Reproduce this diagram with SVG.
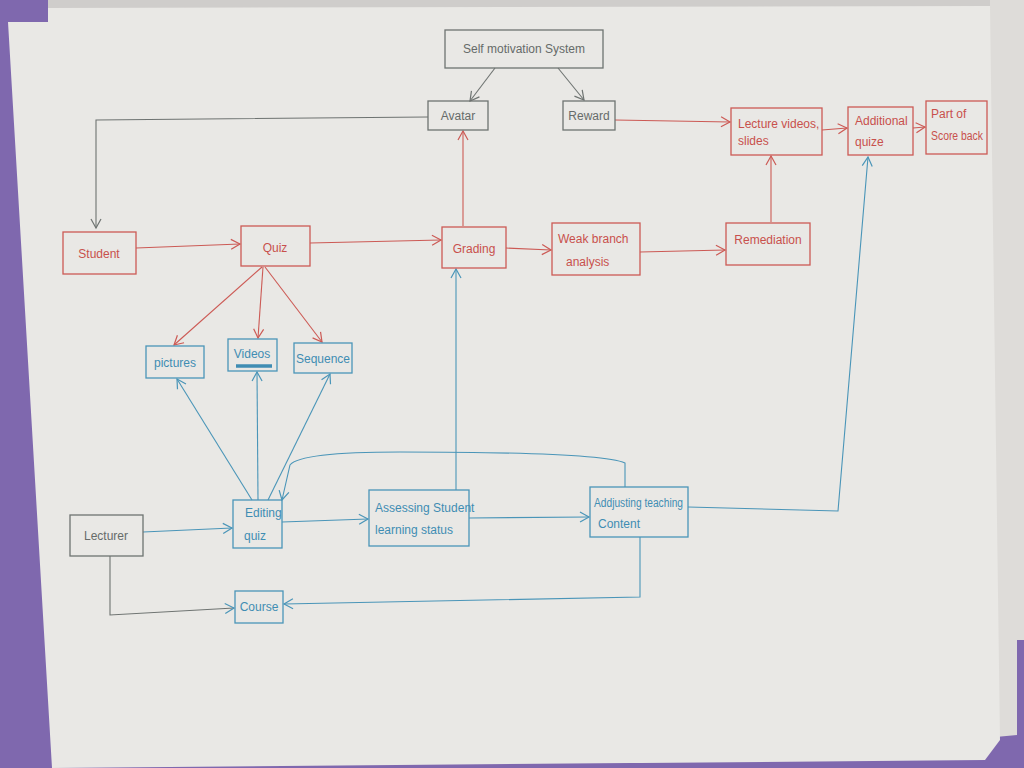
<svg xmlns="http://www.w3.org/2000/svg" width="1024" height="768" viewBox="0 0 1024 768">
<style>
.box{fill:none;stroke-width:1.3}
.r{stroke:#cc5a55}
.b{stroke:#4a95b8}
.g{stroke:#6e7371}
text{font-family:"Liberation Sans",Arial,sans-serif;font-size:12px}
.tr{fill:#c8504c}
.tb{fill:#3f8db3}
.tg{fill:#666b69}
.c{fill:none;stroke-width:1.1}
</style>
<defs>
<marker id="ar" markerWidth="12" markerHeight="12" refX="10" refY="6" orient="auto" markerUnits="userSpaceOnUse"><path d="M1,1 L10,6 L1,11" fill="none" stroke="#cc5a55" stroke-width="1.2"/></marker>
<marker id="ab" markerWidth="12" markerHeight="12" refX="10" refY="6" orient="auto" markerUnits="userSpaceOnUse"><path d="M1,1 L10,6 L1,11" fill="none" stroke="#4a95b8" stroke-width="1.2"/></marker>
<marker id="ag" markerWidth="12" markerHeight="12" refX="10" refY="6" orient="auto" markerUnits="userSpaceOnUse"><path d="M1,1 L10,6 L1,11" fill="none" stroke="#6e7371" stroke-width="1.2"/></marker>
</defs>
<rect width="1024" height="768" fill="#7f68ae"/>
<rect x="48" y="0" width="976" height="10" fill="#cfcdcb"/>
<polygon points="1024,0 1024,640 1017,640 1017,735 985,738 985,755 990,0" fill="#dedcd9"/>
<polygon points="8,22 48,22 48,8 990,6 1000,740 985,760 52,768" fill="#e9e8e5"/>

<g id="connectors">
<path class="c g" d="M495,68 L470,101" marker-end="url(#ag)"/>
<path class="c g" d="M558,68 L584,100" marker-end="url(#ag)"/>
<path class="c g" d="M428,117 L96,120 L96,228" marker-end="url(#ag)"/>
<path class="c r" d="M615,120 L730,122" marker-end="url(#ar)"/>
<path class="c r" d="M136,248 L240,244" marker-end="url(#ar)"/>
<path class="c r" d="M310,243 L441,240" marker-end="url(#ar)"/>
<path class="c r" d="M463,226 L463,131" marker-end="url(#ar)"/>
<path class="c r" d="M506,248 L551,250" marker-end="url(#ar)"/>
<path class="c r" d="M640,252 L725,250" marker-end="url(#ar)"/>
<path class="c r" d="M771,222 L771,156" marker-end="url(#ar)"/>
<path class="c r" d="M822,130 L847,128" marker-end="url(#ar)"/>
<path class="c r" d="M913,128 L925,127" marker-end="url(#ar)"/>
<path class="c r" d="M262,267 L174,345" marker-end="url(#ar)"/>
<path class="c r" d="M263,267 L258,338" marker-end="url(#ar)"/>
<path class="c r" d="M265,267 L322,342" marker-end="url(#ar)"/>
<path class="c b" d="M252,500 L177,379" marker-end="url(#ab)"/>
<path class="c b" d="M258,500 L257,372" marker-end="url(#ab)"/>
<path class="c b" d="M268,500 L330,374" marker-end="url(#ab)"/>
<path class="c b" d="M143,532 L232,528" marker-end="url(#ab)"/>
<path class="c g" d="M110,556 L110,615 L234,608" marker-end="url(#ab)"/>
<path class="c b" d="M282,522 L368,519" marker-end="url(#ab)"/>
<path class="c b" d="M469,518 L589,517" marker-end="url(#ab)"/>
<path class="c b" d="M456,490 L456,269" marker-end="url(#ab)"/>
<path class="c b" d="M625,487 L625,463 Q600,452 400,452 Q300,452 290,465 L282,500" marker-end="url(#ab)"/>
<path class="c b" d="M640,537 L640,597 L284,604" marker-end="url(#ab)"/>
<path class="c b" d="M688,507 L838,511 L868,157" marker-end="url(#ab)"/>
<path d="M236,366 L272,366" stroke="#3f8db3" stroke-width="3.5"/>
</g>

<g id="self-motivation"><rect class="box g" x="445" y="30" width="158" height="38"/><text class="tg" x="524" y="53" text-anchor="middle" font-size="13">Self motivation System</text></g>
<g id="avatar"><rect class="box g" x="428" y="101" width="60" height="29"/><text class="tg" x="458" y="120" text-anchor="middle">Avatar</text></g>
<g id="reward"><rect class="box g" x="563" y="101" width="52" height="29"/><text class="tg" x="589" y="120" text-anchor="middle">Reward</text></g>
<g id="lecture-videos"><rect class="box r" x="731" y="108" width="91" height="47"/><text class="tr" x="738" y="128" font-size="11">Lecture videos,</text><text class="tr" x="738" y="145" font-size="11">slides</text></g>
<g id="additional-quize"><rect class="box r" x="848" y="107" width="65" height="48"/><text class="tr" x="855" y="125" font-size="11">Additional</text><text class="tr" x="855" y="146" font-size="11">quize</text></g>
<g id="part-of-score"><rect class="box r" x="926" y="101" width="61" height="53"/><text class="tr" x="931" y="118" font-size="10">Part of</text><text class="tr" x="931" y="140" font-size="10" textLength="52" lengthAdjust="spacingAndGlyphs">Score back</text></g>
<g id="student"><rect class="box r" x="63" y="232" width="73" height="42"/><text class="tr" x="99" y="258" text-anchor="middle">Student</text></g>
<g id="quiz"><rect class="box r" x="241" y="226" width="69" height="40"/><text class="tr" x="275" y="252" text-anchor="middle" font-size="15">Quiz</text></g>
<g id="grading"><rect class="box r" x="442" y="227" width="64" height="41"/><text class="tr" x="474" y="253" text-anchor="middle" font-size="13">Grading</text></g>
<g id="weak-branch"><rect class="box r" x="552" y="223" width="88" height="52"/><text class="tr" x="558" y="243" font-size="13">Weak branch</text><text class="tr" x="566" y="266" font-size="11">analysis</text></g>
<g id="remediation"><rect class="box r" x="726" y="223" width="84" height="42"/><text class="tr" x="768" y="244" text-anchor="middle">Remediation</text></g>
<g id="pictures"><rect class="box b" x="146" y="346" width="58" height="32"/><text class="tb" x="175" y="367" text-anchor="middle">pictures</text></g>
<g id="videos"><rect class="box b" x="228" y="339" width="49" height="32"/><text class="tb" x="252" y="358" text-anchor="middle">Videos</text></g>
<g id="sequence"><rect class="box b" x="294" y="343" width="58" height="30"/><text class="tb" x="323" y="363" text-anchor="middle" font-size="11">Sequence</text></g>
<g id="lecturer"><rect class="box g" x="70" y="515" width="73" height="41"/><text class="tg" x="106" y="540" text-anchor="middle">Lecturer</text></g>
<g id="editing-quiz"><rect class="box b" x="233" y="500" width="49" height="48"/><text class="tb" x="245" y="517">Editing</text><text class="tb" x="244" y="540">quiz</text></g>
<g id="assessing"><rect class="box b" x="369" y="490" width="100" height="56"/><text class="tb" x="375" y="512" font-size="10.5">Assessing Student</text><text class="tb" x="375" y="534" font-size="10.5">learning status</text></g>
<g id="adjusting"><rect class="box b" x="590" y="487" width="98" height="50"/><text class="tb" x="594" y="507" font-size="10" textLength="89" lengthAdjust="spacingAndGlyphs">Addjusting teaching</text><text class="tb" x="598" y="528" font-size="10">Content</text></g>
<g id="course"><rect class="box b" x="235" y="591" width="48" height="32"/><text class="tb" x="259" y="611" text-anchor="middle">Course</text></g>
</svg>
